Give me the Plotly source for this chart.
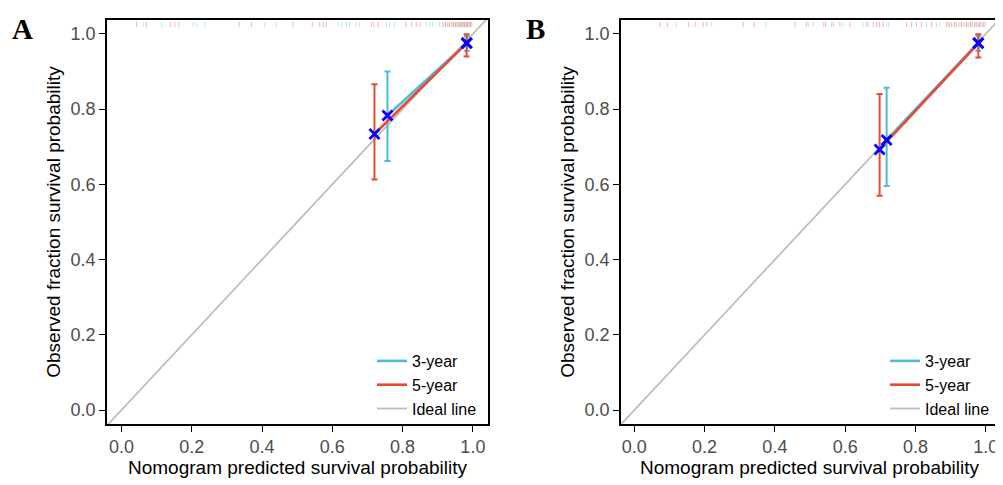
import plotly.graph_objects as go

# ---------------- data ----------------
# Panel A
a3_pred = [0.757, 0.983]
a3_obs = [0.783, 0.976]
a3_lo = [0.662, 0.955]
a3_hi = [0.900, 0.994]
a5_pred = [0.720, 0.982]
a5_obs = [0.734, 0.975]
a5_lo = [0.613, 0.940]
a5_hi = [0.866, 0.999]

# Panel B
b3_pred = [0.718, 0.979]
b3_obs = [0.718, 0.976]
b3_lo = [0.596, 0.955]
b3_hi = [0.857, 0.994]
b5_pred = [0.698, 0.979]
b5_obs = [0.693, 0.975]
b5_lo = [0.570, 0.937]
b5_hi = [0.840, 0.999]

ideal = [-0.1, 1.1]

# rug (predicted probabilities of individual patients)
a_rug3 = [0.062, 0.114, 0.204, 0.213, 0.237, 0.408, 0.441, 0.616, 0.626, 0.640,
          0.649, 0.668, 0.678, 0.754, 0.763, 0.777, 0.867, 0.877, 0.886, 0.905,
          0.921, 0.933, 0.944, 0.952, 0.961, 0.968, 0.976, 0.983, 0.991]
a_rug5 = [0.043, 0.071, 0.140, 0.152, 0.163, 0.335, 0.370, 0.488, 0.543, 0.564,
          0.575, 0.583, 0.711, 0.718, 0.730, 0.810, 0.825, 0.839, 0.850, 0.915,
          0.922, 0.928, 0.934, 0.940, 0.946, 0.951, 0.956, 0.960, 0.965, 0.969,
          0.973, 0.977, 0.981, 0.985, 0.989, 0.993, 0.997]
b_rug3 = [0.120, 0.220, 0.374, 0.495, 0.509, 0.561, 0.594, 0.651, 0.660, 0.718,
          0.724, 0.831, 0.860, 0.869, 0.893, 0.912, 0.930, 0.946, 0.958, 0.970,
          0.982, 0.993]
b_rug5 = [0.073, 0.094, 0.154, 0.173, 0.196, 0.206, 0.310, 0.340, 0.457, 0.490,
          0.539, 0.544, 0.566, 0.585, 0.613, 0.665, 0.680, 0.689, 0.698, 0.708,
          0.775, 0.789, 0.803, 0.817, 0.846, 0.888, 0.896, 0.903, 0.910, 0.917,
          0.924, 0.931, 0.938, 0.944, 0.950, 0.956, 0.962, 0.968, 0.974, 0.980,
          0.986, 0.992, 0.998]
rug_y = [1.018, 1.032]

x_ticks = [0.0, 0.2, 0.4, 0.6, 0.8, 1.0]
tick_text = ["0.0", "0.2", "0.4", "0.6", "0.8", "1.0"]
panel_letters = ["A", "B"]
series_names = ["3-year", "5-year", "Ideal line"]

# ---------------- style ----------------
C3 = "#4DBBD5"
C5 = "#E64B35"
CI = "#BEBEBE"
C3_RUG = "rgba(77,187,213,0.4)"
C5_RUG = "rgba(230,75,53,0.4)"

OFF = 8                     # default page body margin
W, H = 1003 - OFF, 485 - OFF
fig = go.Figure()


def px_x(p):
    return (p - OFF) / W


def px_y(p):
    return 1 - (p - OFF) / H


def rug_xy(vals):
    xs, ys = [], []
    for v in vals:
        xs += [v, v, None]
        ys += [rug_y[0], rug_y[1], None]
    return xs, ys


def add_panel(xa, ya, leg, p3, o3, l3, h3, p5, o5, l5, h5, r3, r5):
    fig.add_trace(go.Scatter(x=ideal, y=ideal, mode="lines",
                             line=dict(color=CI, width=1.8),
                             name=series_names[2], legend=leg, legendrank=3,
                             xaxis=xa, yaxis=ya, hoverinfo="skip"))
    xs, ys = rug_xy(r3)
    fig.add_trace(go.Scatter(x=xs, y=ys, mode="lines", line=dict(color=C3_RUG, width=1),
                             showlegend=False, xaxis=xa, yaxis=ya, hoverinfo="skip"))
    xs, ys = rug_xy(r5)
    fig.add_trace(go.Scatter(x=xs, y=ys, mode="lines", line=dict(color=C5_RUG, width=1),
                             showlegend=False, xaxis=xa, yaxis=ya, hoverinfo="skip"))
    fig.add_trace(go.Scatter(x=p3, y=o3, mode="lines",
                             line=dict(color=C3, width=2.6),
                             error_y=dict(type="data", symmetric=False,
                                          array=[h - o for h, o in zip(h3, o3)],
                                          arrayminus=[o - l for l, o in zip(l3, o3)],
                                          color=C3, thickness=2, width=3),
                             name=series_names[0], legend=leg, legendrank=1,
                             xaxis=xa, yaxis=ya))
    fig.add_trace(go.Scatter(x=p5, y=o5, mode="lines",
                             line=dict(color=C5, width=2.6),
                             error_y=dict(type="data", symmetric=False,
                                          array=[h - o for h, o in zip(h5, o5)],
                                          arrayminus=[o - l for l, o in zip(l5, o5)],
                                          color=C5, thickness=2, width=3),
                             name=series_names[1], legend=leg, legendrank=2,
                             xaxis=xa, yaxis=ya))
    fig.add_trace(go.Scatter(x=p3 + p5, y=o3 + o5, mode="markers",
                             marker=dict(symbol="x-thin", size=10,
                                         line=dict(color="#0000FF", width=2.8)),
                             showlegend=False, xaxis=xa, yaxis=ya))


add_panel("x", "y", "legend", a3_pred, a3_obs, a3_lo, a3_hi,
          a5_pred, a5_obs, a5_lo, a5_hi, a_rug3, a_rug5)
add_panel("x2", "y2", "legend2", b3_pred, b3_obs, b3_lo, b3_hi,
          b5_pred, b5_obs, b5_lo, b5_hi, b_rug3, b_rug5)

FONT = "Liberation Sans, Arial, sans-serif"
ax_common = dict(showline=True, mirror=True, linecolor="black", linewidth=1.6,
                 ticks="outside", ticklen=6, tickwidth=1.4, tickcolor="black",
                 tickvals=x_ticks, ticktext=tick_text,
                 tickfont=dict(family=FONT, size=18, color="#4D4D4D"),
                 showgrid=False, zeroline=False)
title_font = dict(family=FONT, size=19, color="black")
XT = "Nomogram predicted survival probability"
YT = "Observed fraction survival probability"

ydom = [px_y(424), px_y(20)]
leg_common = dict(xanchor="right", yanchor="bottom", bgcolor="rgba(0,0,0,0)",
                  font=dict(family=FONT, size=16, color="black"),
                  tracegroupgap=0, itemwidth=30)
fig.update_layout(
    width=W, height=H, margin=dict(l=0, r=0, t=0, b=0),
    plot_bgcolor="white", paper_bgcolor="white",
    xaxis=dict(domain=[px_x(107), px_x(488)], range=[-0.041, 1.043], anchor="y",
               title=dict(text=XT, font=title_font, standoff=3), **ax_common),
    yaxis=dict(domain=ydom, range=[-0.037, 1.037], anchor="x",
               title=dict(text=YT, font=title_font, standoff=5), **ax_common),
    xaxis2=dict(domain=[px_x(621), px_x(998)], range=[-0.038, 1.035], anchor="y2",
                title=dict(text=XT, font=title_font, standoff=3), **ax_common),
    yaxis2=dict(domain=ydom, range=[-0.037, 1.037], anchor="x2",
                title=dict(text=YT, font=title_font, standoff=5), **ax_common),
    legend=dict(x=px_x(482), y=px_y(426), **leg_common),
    legend2=dict(x=px_x(995), y=px_y(426), **leg_common),
    showlegend=True,
)

for letter, xpos in zip(panel_letters, [22, 535]):
    fig.add_annotation(text="<b>" + letter + "</b>", x=px_x(xpos), y=px_y(29),
                       xref="paper", yref="paper", xanchor="center", yanchor="middle",
                       showarrow=False,
                       font=dict(family="Liberation Serif, Times New Roman, serif",
                                 size=29, color="black"))

fig.write_html("out.html")
